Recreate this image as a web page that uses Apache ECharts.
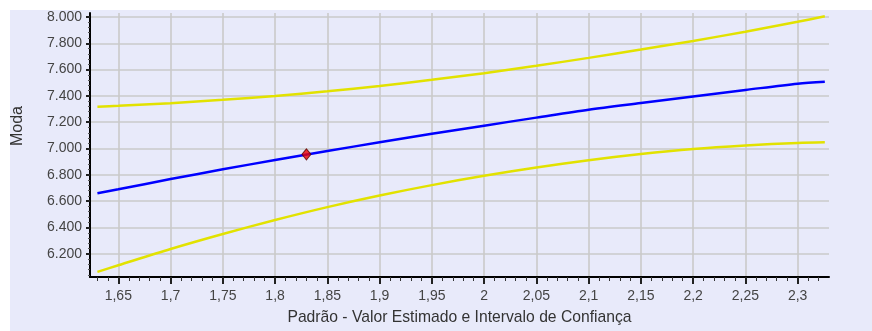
<!DOCTYPE html>
<html>
<head>
<meta charset="utf-8">
<script src="https://cdn.jsdelivr.net/npm/echarts@6/dist/echarts.min.js"></script>
<style>
html,body{margin:0;padding:0;background:#fff;}
#chart{width:872px;height:331px;}
</style>
</head>
<body>
<div id="chart"></div>
<script>
// x positions (Padrão)
const xValues = [1.63, 1.65, 1.70, 1.75, 1.80, 1.85, 1.90, 1.95, 2.00, 2.05, 2.10, 2.15, 2.20, 2.25, 2.30, 2.326];
// Valor estimado (Moda)
const estimado = [6660, 6690, 6768, 6842, 6913, 6981, 7048, 7112, 7174, 7235, 7295, 7346, 7396, 7445, 7493, 7507];
// Limite superior do intervalo de confiança
const superior = [7318, 7325, 7345, 7370, 7400, 7435, 7476, 7522, 7573, 7629, 7689, 7752, 7818, 7888, 7963, 8005];
// Limite inferior do intervalo de confiança
const inferior = [6063, 6113, 6237, 6351, 6457, 6555, 6643, 6722, 6793, 6856, 6911, 6958, 6996, 7023, 7043, 7048];
// Ponto marcado
const pontoX = [1.83];
const pontoY = [6956];

// tick labels
const xTicks = [1.65, 1.70, 1.75, 1.80, 1.85, 1.90, 1.95, 2.00, 2.05, 2.10, 2.15, 2.20, 2.25, 2.30];
const yTicks = [6200, 6400, 6600, 6800, 7000, 7200, 7400, 7600, 7800, 8000];

const xMin = 1.6229, xMax = 2.330;
const yMin = 6024, yMax = 8030;

const xMinor = [];
for (let i = 163; i <= 232; i++) { if (i % 5 !== 0) xMinor.push(i / 100); }
const yMinor = [];
for (let v = 6040; v <= 8000; v += 40) { if (v % 200 !== 0) yMinor.push(v); }

const pair = (xs, ys) => xs.map((x, i) => [x, ys[i]]);

const FONT = 'Liberation Sans';
const chart = echarts.init(document.getElementById('chart'), null, {renderer: 'canvas'});
chart.setOption({
  animation: false,
  backgroundColor: '#ffffff',
  graphic: [{
    type: 'rect', left: 10, top: 10, z: -10,
    shape: {width: 862, height: 321},
    style: {fill: '#E8EAFA'}
  }],
  grid: {left: 90, top: 13, right: 43, bottom: 48, containLabel: false},
  xAxis: [{
    type: 'value', min: xMin, max: xMax,
    name: 'Padrão - Valor Estimado e Intervalo de Confiança',
    nameLocation: 'middle', nameGap: 33,
    nameTextStyle: {fontFamily: FONT, fontSize: 15.7, color: '#333'},
    axisLine: {show: true, onZero: false, lineStyle: {color: '#000', width: 2}},
    axisTick: {show: true, length: 7, lineStyle: {color: '#222', width: 2}, customValues: xTicks},
    axisLabel: {fontFamily: FONT, fontSize: 14, color: '#444', margin: 12, customValues: xTicks,
      formatter: v => String(Number(v.toFixed(2))).replace('.', ',')},
    splitLine: {show: true, lineStyle: {color: '#CACACA', width: 1.6}}
  }, {
    type: 'value', min: xMin, max: xMax, position: 'bottom',
    axisLine: {show: false},
    axisTick: {show: true, length: 4, lineStyle: {color: '#333', width: 1}, customValues: xMinor},
    axisLabel: {show: false},
    splitLine: {show: false}
  }],
  yAxis: [{
    type: 'value', min: yMin, max: yMax,
    name: 'Moda', nameLocation: 'middle', nameGap: 64,
    nameTextStyle: {fontFamily: FONT, fontSize: 16, color: '#333', padding: [0, 0, 0, 38]},
    axisLine: {show: true, onZero: false, lineStyle: {color: '#000', width: 2}},
    axisTick: {show: true, length: 4, lineStyle: {color: '#222', width: 2}, customValues: yTicks},
    axisLabel: {fontFamily: FONT, fontSize: 14, color: '#444', margin: 8, customValues: yTicks,
      formatter: v => (v / 1000).toFixed(3)},
    splitLine: {show: true, lineStyle: {color: '#CACACA', width: 1.6}}
  }, {
    type: 'value', min: yMin, max: yMax, position: 'left',
    axisLine: {show: false},
    axisTick: {show: true, length: 2, lineStyle: {color: '#555', width: 1}, customValues: yMinor},
    axisLabel: {show: false},
    splitLine: {show: false}
  }],
  series: [{
    type: 'line', name: 'Superior', data: pair(xValues, superior),
    showSymbol: false, smooth: 0.3,
    lineStyle: {color: '#E2E200', width: 2.5}, z: 3
  }, {
    type: 'line', name: 'Inferior', data: pair(xValues, inferior),
    showSymbol: false, smooth: 0.3,
    lineStyle: {color: '#E2E200', width: 2.5}, z: 3
  }, {
    type: 'line', name: 'Estimado', data: pair(xValues, estimado),
    showSymbol: false, smooth: 0.3,
    lineStyle: {color: '#0000FF', width: 2.5}, z: 4
  }, {
    type: 'scatter', name: 'Ponto', data: pair(pontoX, pontoY),
    symbol: 'diamond', symbolSize: [9, 11],
    itemStyle: {color: '#EE0000', borderColor: '#5a0000', borderWidth: 1}, z: 5
  }]
});
</script>
</body>
</html>
